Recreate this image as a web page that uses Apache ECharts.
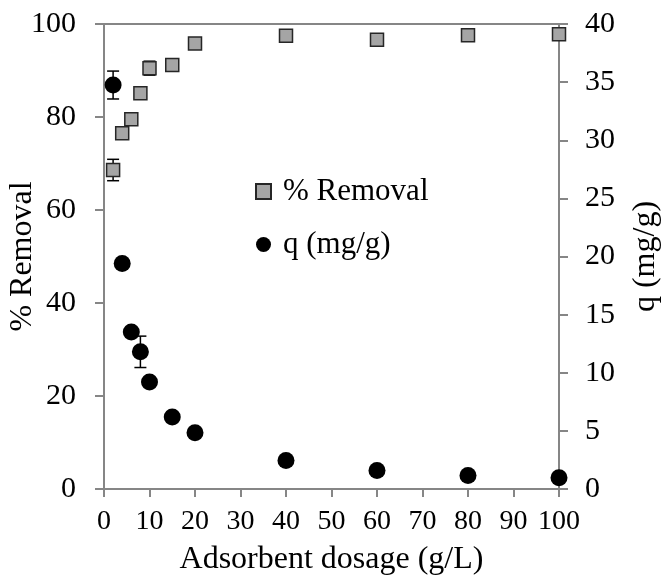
<!DOCTYPE html>
<html>
<head>
<meta charset="utf-8">
<title>Adsorbent dosage</title>
<script src="https://cdn.jsdelivr.net/npm/echarts@6/dist/echarts.min.js"></script>
<style>
  html, body { margin: 0; padding: 0; background: #fff; }
  #chart { width: 664px; height: 575px; }
</style>
</head>
<body>
<div id="chart"></div>
<script>
// adsorbent dosage (g/L)
const dosage = [2, 4, 6, 8, 10, 15, 20, 40, 60, 80, 100]
// % removal, left axis
const removal = [68.6, 76.5, 79.5, 85.1, 90.5, 91.2, 95.8, 97.5, 96.6, 97.6, 97.8]
const removalErr = [2.3, 0.6, 0.5, 0.6, 1.5, 0.5, 0.4, 0.4, 0.5, 0.3, 0.3]
// q (mg/g), right axis
const qValues = [34.75, 19.4, 13.5, 11.8, 9.2, 6.2, 4.84, 2.45, 1.6, 1.16, 0.96]
const qErr = [1.2, 0.3, 0.3, 1.35, 0.3, 0.2, 0.2, 0.1, 0.1, 0.1, 0.1]

const FONT = "'Liberation Serif', 'Times New Roman', serif"
const AXIS_GRAY = '#868686'

function errorBars(values, errors, yAxisIndex) {
  return {
    type: 'custom',
    yAxisIndex: yAxisIndex,
    z: 1,
    silent: true,
    renderItem: function (params, api) {
      const x = api.value(0)
      const lo = api.coord([x, api.value(1)])
      const hi = api.coord([x, api.value(2)])
      const half = 6
      const style = { stroke: '#000', lineWidth: 1.5 }
      return {
        type: 'group',
        children: [
          { type: 'line', shape: { x1: lo[0], y1: lo[1], x2: hi[0], y2: hi[1] }, style: style },
          { type: 'line', shape: { x1: lo[0] - half, y1: lo[1], x2: lo[0] + half, y2: lo[1] }, style: style },
          { type: 'line', shape: { x1: hi[0] - half, y1: hi[1], x2: hi[0] + half, y2: hi[1] }, style: style }
        ]
      }
    },
    data: dosage.map(function (d, i) {
      return [d, values[i] - errors[i], values[i] + errors[i]]
    })
  }
}

const chart = echarts.init(document.getElementById('chart'))

const axisLine = { show: true, lineStyle: { color: AXIS_GRAY, width: 2 } }
const tickStyle = { color: AXIS_GRAY, width: 2 }
const nameStyle = { color: '#000', fontFamily: FONT, fontSize: 32 }

chart.setOption({
  backgroundColor: '#fff',
  animation: false,
  grid: {
    left: 104,
    right: 105,
    top: 24,
    bottom: 86,
    outerBoundsMode: 'none',
    show: true,
    borderColor: AXIS_GRAY,
    borderWidth: 2
  },
  legend: {
    orient: 'vertical',
    left: 250,
    top: 171,
    itemGap: 22,
    itemWidth: 15,
    itemHeight: 15,
    data: ['% Removal', 'q (mg/g)'],
    textStyle: { color: '#000', fontFamily: FONT, fontSize: 31, padding: [0, 0, 0, 7] }
  },
  xAxis: {
    type: 'value',
    min: 0,
    max: 100,
    interval: 10,
    name: 'Adsorbent dosage (g/L)',
    nameLocation: 'middle',
    nameGap: 55,
    nameMoveOverlap: false,
    nameTextStyle: nameStyle,
    axisLine: axisLine,
    axisTick: { show: true, length: 8, lineStyle: tickStyle },
    axisLabel: { margin: 19, color: '#000', fontFamily: FONT, fontSize: 28 },
    splitLine: { show: false }
  },
  yAxis: [
    {
      type: 'value',
      position: 'left',
      min: 0,
      max: 100,
      interval: 20,
      name: '% Removal',
      nameLocation: 'middle',
      nameRotate: 90,
      nameGap: 65,
      nameMoveOverlap: false,
      nameTextStyle: nameStyle,
      axisLine: axisLine,
      axisTick: { show: true, length: 9, lineStyle: tickStyle },
      axisLabel: { margin: 28, color: '#000', fontFamily: FONT, fontSize: 30 },
      splitLine: { show: false }
    },
    {
      type: 'value',
      position: 'right',
      min: 0,
      max: 40,
      interval: 5,
      name: 'q (mg/g)',
      nameLocation: 'middle',
      nameRotate: 90,
      nameGap: 71,
      nameMoveOverlap: false,
      nameTextStyle: nameStyle,
      axisLine: axisLine,
      axisTick: { show: true, length: 9, lineStyle: tickStyle },
      axisLabel: { margin: 26, color: '#000', fontFamily: FONT, fontSize: 30 },
      splitLine: { show: false }
    }
  ],
  series: [
    errorBars(removal, removalErr, 0),
    errorBars(qValues, qErr, 1),
    {
      name: '% Removal',
      type: 'scatter',
      yAxisIndex: 0,
      symbol: 'rect',
      symbolSize: 13,
      z: 3,
      itemStyle: { color: '#a5a5a5', borderColor: '#262626', borderWidth: 1.5, opacity: 1 },
      data: dosage.map(function (d, i) { return [d, removal[i]] })
    },
    {
      name: 'q (mg/g)',
      type: 'scatter',
      yAxisIndex: 1,
      symbol: 'circle',
      symbolSize: 17,
      z: 4,
      itemStyle: { color: '#000', opacity: 1 },
      data: dosage.map(function (d, i) { return [d, qValues[i]] })
    }
  ]
})
</script>
</body>
</html>
